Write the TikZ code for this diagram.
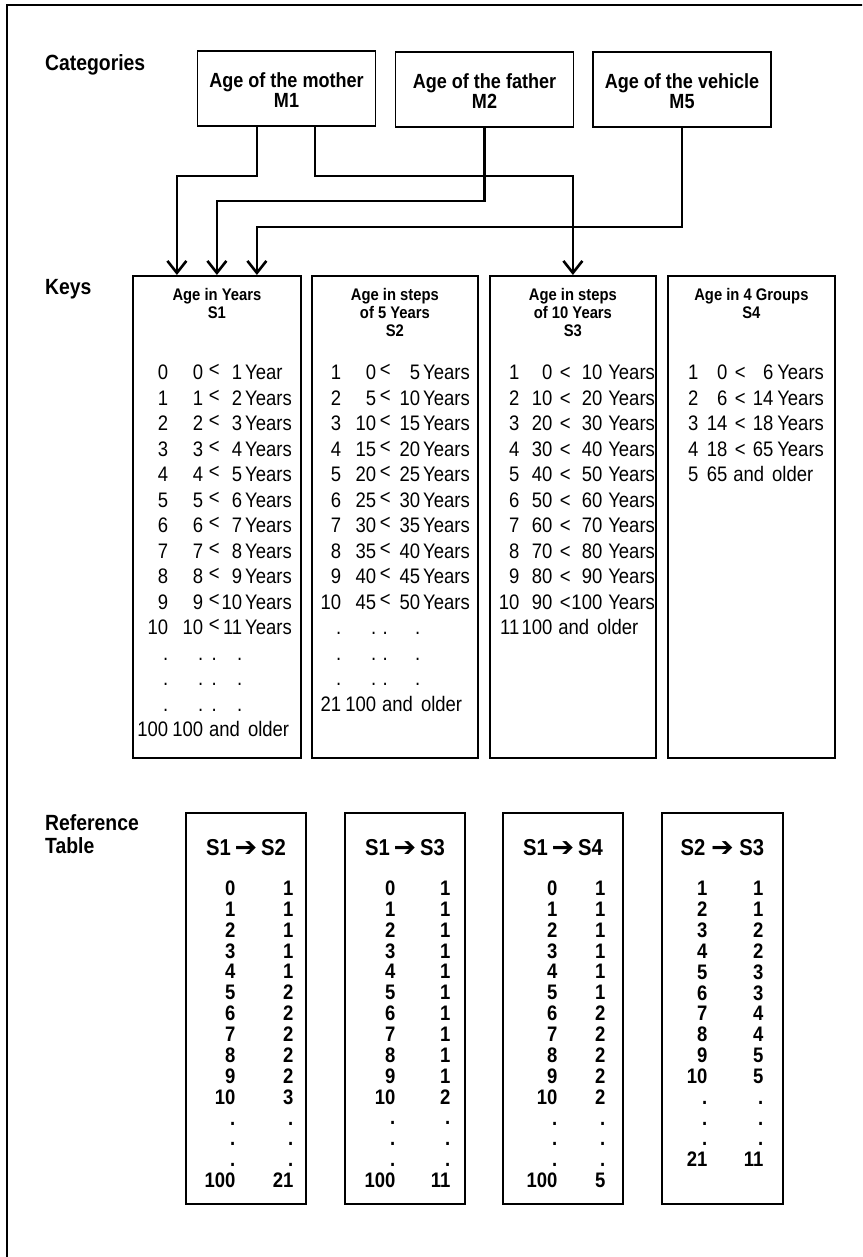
\documentclass[tikz,border=0pt]{standalone}
\usepackage{fontspec}
\setmainfont{Liberation Sans}[FakeStretch=0.88]
\newfontfamily\symfont{DejaVu Sans}
\usetikzlibrary{arrows.meta}

% anchos de columna de las tablas
\newlength\colwa \newlength\colwb \newlength\colwc \newlength\colwd \newlength\colwe
\newcommand{\cols}[5]{\setlength\colwa{#1pt}\setlength\colwb{#2pt}\setlength\colwc{#3pt}\setlength\colwd{#4pt}\setlength\colwe{#5pt}}
\newcommand{\lsign}{<}
\newcommand{\lup}{\raisebox{3pt}{<}}
\newcommand{\krow}[4]{\makebox[\colwa][r]{#1}\makebox[\colwb][r]{#2}\makebox[\colwc]{\lsign}\makebox[\colwd][r]{#3}\hspace{\colwe}#4}
\newcommand{\kdots}{\makebox[\colwa][r]{.}\makebox[\colwb][r]{.}\makebox[\colwc]{.}\makebox[\colwd][r]{.}}
\newcommand{\kold}[2]{\makebox[\colwa][r]{#1}\makebox[\colwb][r]{#2}\hspace{6pt}and\hspace{8pt}older}
\newcommand{\rrow}[2]{\makebox[\colwa][r]{#1}\makebox[\colwb][r]{#2}}
\newcommand{\stack}[1]{\begin{tabular}[t]{@{}c@{}}#1\end{tabular}}
\newcommand{\lines}[1]{\begin{tabular}[t]{@{}l@{}}#1\end{tabular}}
\newcommand{\goesto}{\raisebox{-1.5pt}{\symfont\fontsize{27}{27}\selectfont ➔}}

\begin{document}
\begin{tikzpicture}[x=1pt, y=-1pt,
    lbl/.style={anchor=base west, inner sep=0pt, font=\fontsize{22}{23}\selectfont\bfseries},
    catbox/.style={draw, line width=1.8pt, minimum width=178pt, minimum height=75pt, inner sep=0pt,
      text height=23.6pt, text depth=26pt, font=\fontsize{20.5}{20}\selectfont\bfseries},
    keybox/.style={draw, line width=1.8pt, anchor=north west, minimum height=482pt, inner sep=0pt},
    keyhead/.style={anchor=base, inner sep=0pt, font=\fontsize{16.8}{18}\selectfont\bfseries},
    keyrows/.style={anchor=base west, inner sep=0pt, font=\fontsize{21}{25.5}\selectfont},
    refbox/.style={draw, line width=1.8pt, anchor=north west, minimum width=120pt, minimum height=391pt, inner sep=0pt},
    refhead/.style={anchor=base, inner sep=0pt, font=\fontsize{23}{23}\selectfont\bfseries},
    refrows/.style={anchor=base west, inner sep=0pt, font=\fontsize{21}{20.8}\selectfont\bfseries},
    flow/.style={line width=2.6pt, -{Straight Barb[length=12pt,width=19pt]}}]
  \useasboundingbox (0,0) rectangle (862,1257);
  \clip (0,0) rectangle (862,1257);

  % Marco exterior
  \draw[line width=2.5pt] (7,1300) -- (7,5) -- (900,5);

  % Rotulos de la izquierda
  \node[lbl] (cat) at (45,71) {Categories};
  \node[lbl] (keys) at (45,294) {Keys};
  \node[lbl] (reft) at (45,830) {\lines{Reference\\Table}};

  % Categorias
  \node[catbox] (m1) at (286.5,88.5) {\stack{Age of the mother\\M1}};
  \node[catbox] (m2) at (484.5,89.5) {\stack{Age of the father\\M2}};
  \node[catbox] (m5) at (682,89.5) {\stack{Age of the vehicle\\M5}};

  % Claves
  \node[keybox, minimum width=168pt] (s1) at (132,275) {};
  \node[keybox, minimum width=166pt] (s2) at (311,275) {};
  \node[keybox, minimum width=166pt] (s3) at (489,275) {};
  \node[keybox, minimum width=167pt] (s4) at (667,275) {};

  \node[keyhead] (s1h) at ([yshift=-25pt]s1.north) {\stack{Age in Years\\S1}};
  \node[keyhead] (s2h) at ([yshift=-25pt]s2.north) {\stack{Age in steps\\of 5 Years\\S2}};
  \node[keyhead] (s3h) at ([yshift=-25pt]s3.north) {\stack{Age in steps\\of 10 Years\\S3}};
  \node[keyhead] (s4h) at ([yshift=-25pt]s4.north) {\stack{Age in 4 Groups\\S4}};

  \node[keyrows] (s1t) at ([yshift=-104.5pt]s1.north west) {\cols{36}{35}{22}{17}{3}\let\lsign\lup
    \lines{\krow{0}{0}{1}{Year}\\ \krow{1}{1}{2}{Years}\\ \krow{2}{2}{3}{Years}\\ \krow{3}{3}{4}{Years}\\
      \krow{4}{4}{5}{Years}\\ \krow{5}{5}{6}{Years}\\ \krow{6}{6}{7}{Years}\\ \krow{7}{7}{8}{Years}\\
      \krow{8}{8}{9}{Years}\\ \krow{9}{9}{10}{Years}\\ \krow{10}{10}{11}{Years}\\
      \kdots\\ \kdots\\ \kdots\\ \kold{100}{100}}};
  \node[keyrows] (s2t) at ([yshift=-104.5pt]s2.north west) {\cols{30}{35}{18}{26}{3}\let\lsign\lup
    \lines{\krow{1}{0}{5}{Years}\\ \krow{2}{5}{10}{Years}\\ \krow{3}{10}{15}{Years}\\ \krow{4}{15}{20}{Years}\\
      \krow{5}{20}{25}{Years}\\ \krow{6}{25}{30}{Years}\\ \krow{7}{30}{35}{Years}\\ \krow{8}{35}{40}{Years}\\
      \krow{9}{40}{45}{Years}\\ \krow{10}{45}{50}{Years}\\
      \kdots\\ \kdots\\ \kdots\\ \kold{21}{100}}};
  \node[keyrows] (s3t) at ([yshift=-104.5pt]s3.north west) {\cols{25}{33}{26}{24}{6}
    \lines{\krow{1}{0}{10}{Years}\\ \krow{2}{10}{20}{Years}\\ \krow{3}{20}{30}{Years}\\ \krow{4}{30}{40}{Years}\\
      \krow{5}{40}{50}{Years}\\ \krow{6}{50}{60}{Years}\\ \krow{7}{60}{70}{Years}\\ \krow{8}{70}{80}{Years}\\
      \krow{9}{80}{90}{Years}\\ \krow{10}{90}{100}{Years}\\ \kold{11}{100}}};
  \node[keyrows] (s4t) at ([yshift=-104.5pt]s4.north west) {\cols{26}{29}{26}{20}{4}
    \lines{\krow{1}{0}{6}{Years}\\ \krow{2}{6}{14}{Years}\\ \krow{3}{14}{18}{Years}\\ \krow{4}{18}{65}{Years}\\
      \kold{5}{65}}};

  % Flechas de categorias a claves
  \draw[flow] ([xshift=-29.5pt]m1.south) -- ++(0,49) -| ([xshift=-40pt]s1.north);
  \draw[flow] ([xshift=28.5pt]m1.south) -- ++(0,49) -| (s3.north);
  \draw[flow] (m2.south) -- ++(0,73) -| (s1.north);
  \draw[flow] (m5.south) -- ++(0,99) -| ([xshift=40pt]s1.north);

  % Tablas de referencia
  \node[refbox] (r1) at (185,812) {};
  \node[refbox] (r2) at (344,812) {};
  \node[refbox] (r3) at (502,812) {};
  \node[refbox, minimum width=121pt] (r4) at (661,812) {};

  \node[refhead] (r1h) at ([yshift=-43pt]r1.north) {S1\,\goesto\,S2};
  \node[refhead] (r2h) at ([yshift=-43pt]r2.north) {S1\,\goesto\,S3};
  \node[refhead] (r3h) at ([yshift=-43pt]r3.north) {S1\,\goesto\,S4};
  \node[refhead] (r4h) at ([yshift=-43pt]r4.north) {S2 \goesto{} S3};

  \node[refrows] (r1t) at ([yshift=-83.5pt]r1.north west) {\cols{45}{58}{0}{0}{0}
    \lines{\rrow{0}{1}\\ \rrow{1}{1}\\ \rrow{2}{1}\\ \rrow{3}{1}\\ \rrow{4}{1}\\ \rrow{5}{2}\\ \rrow{6}{2}\\
      \rrow{7}{2}\\ \rrow{8}{2}\\ \rrow{9}{2}\\ \rrow{10}{3}\\ \rrow{.}{.}\\ \rrow{.}{.}\\ \rrow{.}{.}\\ \rrow{100}{21}}};
  \node[refrows] (r2t) at ([yshift=-83.5pt]r2.north west) {\cols{46}{55}{0}{0}{0}
    \lines{\rrow{0}{1}\\ \rrow{1}{1}\\ \rrow{2}{1}\\ \rrow{3}{1}\\ \rrow{4}{1}\\ \rrow{5}{1}\\ \rrow{6}{1}\\
      \rrow{7}{1}\\ \rrow{8}{1}\\ \rrow{9}{1}\\ \rrow{10}{2}\\ \rrow{.}{.}\\ \rrow{.}{.}\\ \rrow{.}{.}\\ \rrow{100}{11}}};
  \node[refrows] (r3t) at ([yshift=-83.5pt]r3.north west) {\cols{50}{48}{0}{0}{0}
    \lines{\rrow{0}{1}\\ \rrow{1}{1}\\ \rrow{2}{1}\\ \rrow{3}{1}\\ \rrow{4}{1}\\ \rrow{5}{1}\\ \rrow{6}{2}\\
      \rrow{7}{2}\\ \rrow{8}{2}\\ \rrow{9}{2}\\ \rrow{10}{2}\\ \rrow{.}{.}\\ \rrow{.}{.}\\ \rrow{.}{.}\\ \rrow{100}{5}}};
  \node[refrows] (r4t) at ([yshift=-83.5pt]r4.north west) {\cols{41}{56}{0}{0}{0}
    \lines{\rrow{1}{1}\\ \rrow{2}{1}\\ \rrow{3}{2}\\ \rrow{4}{2}\\ \rrow{5}{3}\\ \rrow{6}{3}\\ \rrow{7}{4}\\
      \rrow{8}{4}\\ \rrow{9}{5}\\ \rrow{10}{5}\\ \rrow{.}{.}\\ \rrow{.}{.}\\ \rrow{.}{.}\\ \rrow{21}{11}}};
\end{tikzpicture}
\end{document}
